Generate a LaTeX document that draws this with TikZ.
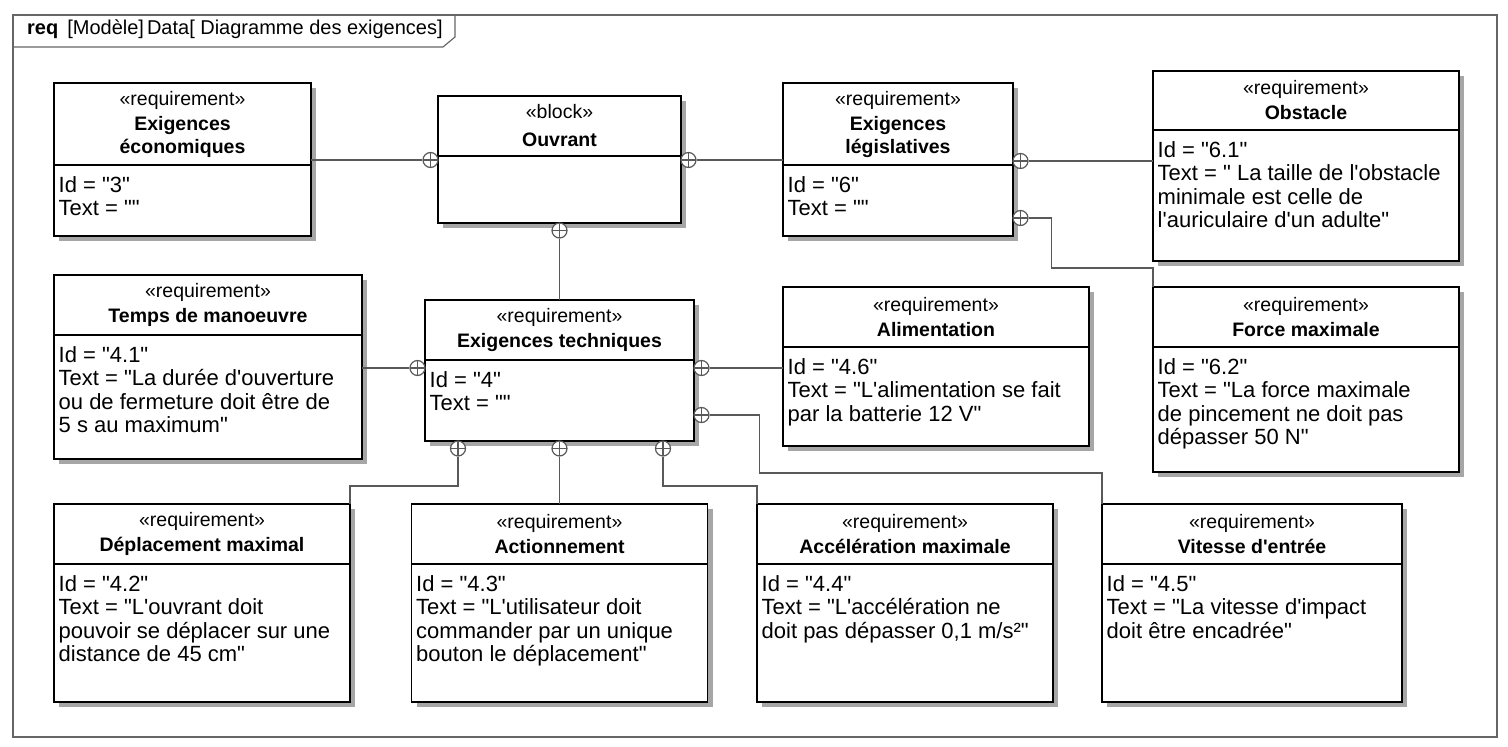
\documentclass[tikz,border=0pt]{standalone}
\usepackage{fontspec}
\newfontfamily\umlfont{Liberation Sans}
\usepackage{tikz}
\usetikzlibrary{positioning, shadows}

\begin{document}
\begin{tikzpicture}[
    x=1pt, y=-1pt,
    box/.style={rectangle, draw=black, line width=1.5pt, fill=white, inner sep=0pt, outer sep=0pt, drop shadow={shadow xshift=5pt, shadow yshift=-5pt, fill=black!35, opacity=1}},
    head/.style={box, align=center, font=\umlfont\fontsize{19.5}{23}\selectfont},
    attr/.style={anchor=north west, inner xsep=4.5pt, inner ysep=0pt, yshift=-11pt, align=left, font=\umlfont\fontsize{22}{23.5}\selectfont},
    contain/.style={circle, draw=black!65, line width=1.2pt, fill=white, inner sep=0pt, minimum size=15pt, path picture={\draw[black!65, line width=1.2pt] (path picture bounding box.north) -- (path picture bounding box.south) (path picture bounding box.west) -- (path picture bounding box.east);}},
    link/.style={draw=black!65, line width=1.2pt},
    frame/.style={draw=black!60, line width=1.2pt}
]
\useasboundingbox (0,0) rectangle (1508,747);

% Frame
\draw[frame] (13,15) rectangle (1497,737);
\draw[frame] (13,47) -- (443,47) -- (455,37) -- (455,15);
\node[anchor=base west, inner sep=0pt, font=\umlfont\fontsize{20}{24}\selectfont] (title) at (27,34) {\textbf{req}\hspace{9pt}[Modèle]\hspace{3pt}Data[ Diagramme des exigences]};

% Nodes
\node[head, minimum width=257pt, minimum height=82pt] (eco) at (182.5,124) {«requirement»\\[2pt]\textbf{Exigences}\\\textbf{économiques}};
\node[box, minimum width=257pt, minimum height=71pt, below=0pt of eco] (eco-body) {};
\node[attr] (eco-text) at (eco-body.north west) {Id = "3"\\Text = ""};

\node[head, minimum width=243pt, minimum height=60pt] (ouv) at (559.5,126) {«block»\\[5pt]\textbf{Ouvrant}};
\node[box, minimum width=243pt, minimum height=67pt, below=0pt of ouv] (ouv-body) {};

\node[head, minimum width=230pt, minimum height=82pt] (leg) at (898,124) {«requirement»\\[2pt]\textbf{Exigences}\\\textbf{législatives}};
\node[box, minimum width=230pt, minimum height=71pt, below=0pt of leg] (leg-body) {};
\node[attr] (leg-text) at (leg-body.north west) {Id = "6"\\Text = ""};

\node[head, minimum width=306pt, minimum height=59pt] (obs) at (1306,100.5) {«requirement»\\[2pt]\textbf{Obstacle}};
\node[box, minimum width=306pt, minimum height=131pt, below=0pt of obs] (obs-body) {};
\node[attr] (obs-text) at (obs-body.north west) {Id = "6.1"\\Text = " La taille de l'obstacle\\minimale est celle de\\l'auriculaire d'un adulte"};

\node[head, minimum width=306pt, minimum height=60pt] (force) at (1306,317) {«requirement»\\[2pt]\textbf{Force maximale}};
\node[box, minimum width=306pt, minimum height=125pt, below=0pt of force] (force-body) {};
\node[attr] (force-text) at (force-body.north west) {Id = "6.2"\\Text = "La force maximale\\de pincement ne doit pas\\dépasser 50 N"};

\node[head, minimum width=308pt, minimum height=60pt] (temps) at (208,305) {«requirement»\\[2pt]\textbf{Temps de manoeuvre}};
\node[box, minimum width=308pt, minimum height=124pt, below=0pt of temps] (temps-body) {};
\node[attr] (temps-text) at (temps-body.north west) {Id = "4.1"\\Text = "La durée d'ouverture\\ou de fermeture doit être de\\5 s au maximum"};

\node[head, minimum width=269pt, minimum height=60pt] (tech) at (559.5,330) {«requirement»\\[2pt]\textbf{Exigences techniques}};
\node[box, minimum width=269pt, minimum height=81pt, below=0pt of tech] (tech-body) {};
\node[attr] (tech-text) at (tech-body.north west) {Id = "4"\\Text = ""};

\node[head, minimum width=306pt, minimum height=60pt] (alim) at (936,317) {«requirement»\\[2pt]\textbf{Alimentation}};
\node[box, minimum width=306pt, minimum height=99pt, below=0pt of alim] (alim-body) {};
\node[attr] (alim-text) at (alim-body.north west) {Id = "4.6"\\Text = "L'alimentation se fait\\par la batterie 12 V"};

\node[head, minimum width=296pt, minimum height=60pt] (dep) at (202,534) {«requirement»\\[2pt]\textbf{Déplacement maximal}};
\node[box, minimum width=296pt, minimum height=138pt, below=0pt of dep] (dep-body) {};
\node[attr] (dep-text) at (dep-body.north west) {Id = "4.2"\\Text = "L'ouvrant doit\\pouvoir se déplacer sur une\\distance de 45 cm"};

\node[head, minimum width=296pt, minimum height=60pt] (act) at (559.5,534) {«requirement»\\[2pt]\textbf{Actionnement}};
\node[box, minimum width=296pt, minimum height=138pt, below=0pt of act] (act-body) {};
\node[attr] (act-text) at (act-body.north west) {Id = "4.3"\\Text = "L'utilisateur doit\\commander par un unique\\bouton le déplacement"};

\node[head, minimum width=296pt, minimum height=60pt] (acc) at (905,534) {«requirement»\\[2pt]\textbf{Accélération maximale}};
\node[box, minimum width=296pt, minimum height=138pt, below=0pt of acc] (acc-body) {};
\node[attr] (acc-text) at (acc-body.north west) {Id = "4.4"\\Text = "L'accélération ne\\doit pas dépasser 0,1 m/s²"};

\node[head, minimum width=300pt, minimum height=60pt] (vit) at (1252,534) {«requirement»\\[2pt]\textbf{Vitesse d'entrée}};
\node[box, minimum width=300pt, minimum height=138pt, below=0pt of vit] (vit-body) {};
\node[attr] (vit-text) at (vit-body.north west) {Id = "4.5"\\Text = "La vitesse d'impact\\doit être encadrée"};

% Containment ends
\node[contain] (plus-eco) at (430.5,160) {};
\node[contain] (plus-leg) at (688.5,160) {};
\node[contain] (plus-tech) at (559.5,230.5) {};
\node[contain] (plus-obs) at (1020.5,161) {};
\node[contain] (plus-force) at (1020.5,218) {};
\node[contain] (plus-temps) at (417.5,368) {};
\node[contain] (plus-alim) at (701.5,368) {};
\node[contain] (plus-vit) at (701.5,415) {};
\node[contain] (plus-dep) at (458,448.5) {};
\node[contain] (plus-act) at (559.5,448.5) {};
\node[contain] (plus-acc) at (663,448.5) {};

% Connections
\draw[link] (plus-eco.west) -- (plus-eco.west -| eco.east);
\draw[link] (plus-leg.east) -- (plus-leg.east -| leg.west);
\draw[link] (plus-tech.south) -- (plus-tech.south |- tech.north);
\draw[link] (plus-obs.east) -- (plus-obs.east -| obs-body.west);
\draw[link] (plus-force.east) -- ++(23,0) |- ([yshift=19pt]force.north west) -- (force.north west);
\draw[link] (plus-temps.west) -- (plus-temps.west -| temps-body.east);
\draw[link] (plus-alim.east) -- (plus-alim.east -| alim-body.west);
\draw[link] (plus-vit.east) -- ++(49.5,0) |- ([yshift=31pt]vit.north west) -- (vit.north west);
\draw[link] (plus-dep.south) |- ([yshift=18pt]dep.north east) -- (dep.north east);
\draw[link] (plus-act.south) -- (plus-act.south |- act.north);
\draw[link] (plus-acc.south) |- ([yshift=18pt]acc.north west) -- (acc.north west);

\end{tikzpicture}
\end{document}
